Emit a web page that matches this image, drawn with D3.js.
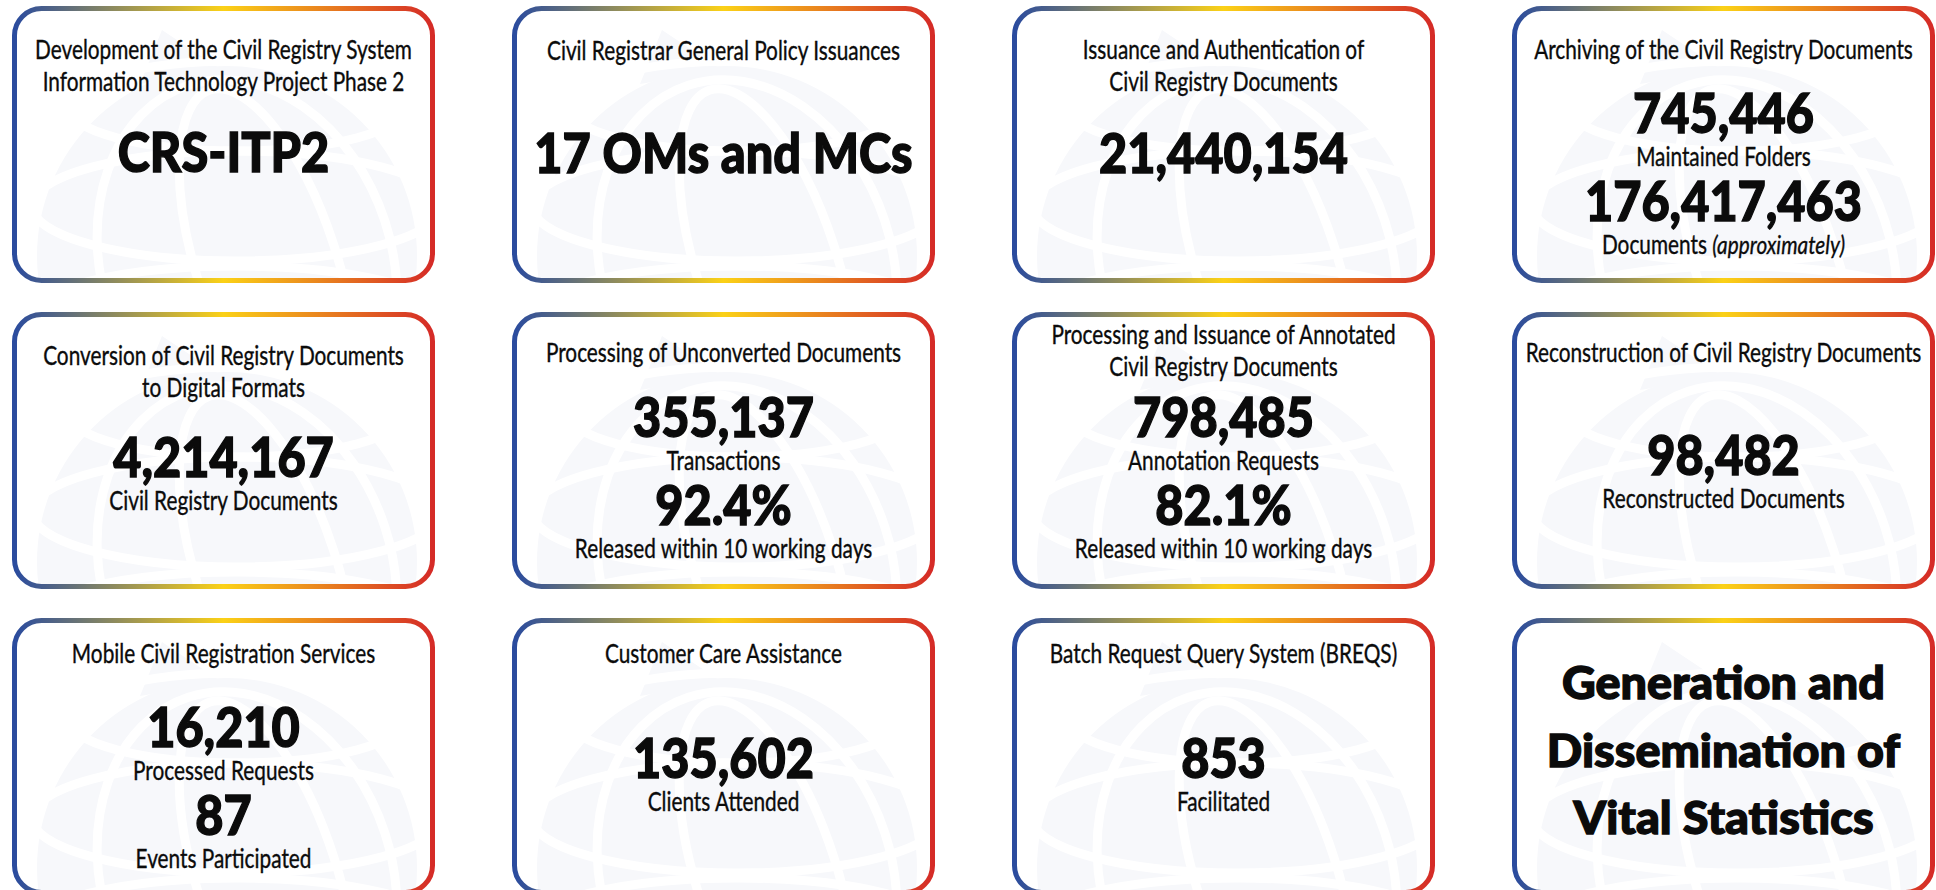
<!DOCTYPE html>
<html>
<head>
<meta charset="utf-8">
<script src="https://cdn.jsdelivr.net/npm/d3@7/dist/d3.min.js"></script>
<style>
html, body { margin: 0; padding: 0; background: #fff; overflow: hidden; }
svg { display: block; }
text { font-family: Lato, "Open Sans", sans-serif; fill: #0b0b0b; }
</style>
</head>
<body>
<svg id="board" width="1936" height="890"></svg>
<script>
// card titles, row by row (4 cards per row)
var titles = [
    ["Development of the Civil Registry System", "Information Technology Project Phase 2"],
    ["Civil Registrar General Policy Issuances"],
    ["Issuance and Authentication of", "Civil Registry Documents"],
    ["Archiving of the Civil Registry Documents"],
    ["Conversion of Civil Registry Documents", "to Digital Formats"],
    ["Processing of Unconverted Documents"],
    ["Processing and Issuance of Annotated", "Civil Registry Documents"],
    ["Reconstruction of Civil Registry Documents"],
    ["Mobile Civil Registration Services"],
    ["Customer Care Assistance"],
    ["Batch Request Query System (BREQS)"],
    []
];

// the big figures of each card
var figures = [
    ["CRS-ITP2"],
    ["17 OMs and MCs"],
    ["21,440,154"],
    ["745,446", "176,417,463"],
    ["4,214,167"],
    ["355,137", "92.4%"],
    ["798,485", "82.1%"],
    ["98,482"],
    ["16,210", "87"],
    ["135,602"],
    ["853"],
    []
];

// caption under each figure
var figureLabels = [
    [""],
    [""],
    [""],
    ["Maintained Folders", "Documents (approximately)"],
    ["Civil Registry Documents"],
    ["Transactions", "Released within 10 working days"],
    ["Annotation Requests", "Released within 10 working days"],
    ["Reconstructed Documents"],
    ["Processed Requests", "Events Participated"],
    ["Clients Attended"],
    ["Facilitated"],
    []
];

// last card only has a headline
var headline = ["Generation and", "Dissemination of", "Vital Statistics"];

// layout (card relative): first title baseline, first figure baseline
var titleY  = [53, 54, 53, 53, 53, 50, 32, 50, 45, 45, 45, 0];
var figureY = [166, 167, 167, 127, 165, 125, 125, 163, 129, 160, 160, 0];
var headlineY = [81, 149, 216];

var cardW = 423, cardH = 277;
var lineGap = 32, labelGap = 33, blockGap = 55;

var colX = d3.scaleLinear().domain([0, 3]).range([12, 1512]);
var rowY = d3.scaleLinear().domain([0, 2]).range([6, 618]);

var svg = d3.select("#board");
var defs = svg.append("defs");

var grad = defs.append("linearGradient")
    .attr("id", "rim")
    .attr("x1", "0%").attr("x2", "100%")
    .attr("y1", "0%").attr("y2", "0%");
grad.append("stop").attr("offset", "0%").attr("stop-color", "#2a4b9e");
grad.append("stop").attr("offset", "50%").attr("stop-color", "#fbd117");
grad.append("stop").attr("offset", "100%").attr("stop-color", "#d52b27");

defs.append("clipPath").attr("id", "inside")
    .append("rect")
    .attr("x", 3).attr("y", 3)
    .attr("width", cardW - 6).attr("height", cardH - 6)
    .attr("rx", 26);

// faint globe watermark behind every card
var watermark = function (g)
{
    var w = g.append("g")
        .attr("clip-path", "url(#inside)");
    var gx = 215, gy = 250, r = 190;

    w.append("circle")
        .attr("cx", gx).attr("cy", gy).attr("r", r)
        .attr("fill", "#f7f8fb");
    w.append("path")
        .attr("d", "M150,24 L210,64 L128,78 Z")
        .attr("fill", "#f7f8fb");

    var grid = w.append("g")
        .attr("fill", "none")
        .attr("stroke", "#ffffff")
        .attr("stroke-width", 9);
    grid.append("ellipse")
        .attr("cx", gx + 40).attr("cy", gy + 10)
        .attr("rx", 70).attr("ry", 185)
        .attr("transform", "rotate(-18," + (gx + 40) + "," + (gy + 10) + ")");
    grid.append("ellipse")
        .attr("cx", gx + 20).attr("cy", gy + 10)
        .attr("rx", 145).attr("ry", 190)
        .attr("transform", "rotate(-18," + (gx + 20) + "," + (gy + 10) + ")");
    grid.append("ellipse")
        .attr("cx", gx + 10).attr("cy", gy - 150)
        .attr("rx", 170).attr("ry", 45);
    grid.append("ellipse")
        .attr("cx", gx + 10).attr("cy", gy - 50)
        .attr("rx", 205).attr("ry", 55);
    grid.append("ellipse")
        .attr("cx", gx + 10).attr("cy", gy + 60)
        .attr("rx", 205).attr("ry", 50);
};

var probe = svg.append("text").attr("x", -1000).attr("y", -1000);
var natural = function (txt, size, weight)
{
    probe.attr("font-size", size).attr("font-weight", weight).text(txt);
    return probe.node().getComputedTextLength();
};

var draw = function ()
{
    // squeeze the fonts to the condensed face of the original
    var kReg  = 377 / natural("Development of the Civil Registry System", 26, 400);
    var kBold = 249 / natural("21,440,154", 55, 900);
    var kHead = 323 / natural("Generation and", 46, 900);
    probe.remove();

    var cards = svg.selectAll("g.card")
        .data(titles)
        .enter().append("g")
        .attr("class", "card")
        .attr("transform", function (d, i) {
            return "translate(" + colX(i % 4) + "," + rowY(Math.floor(i / 4)) + ")";
        });

    cards.each(function (d, i)
    {
        var g = d3.select(this);
        var cx = cardW / 2;
        watermark(g);

        g.append("rect")
            .attr("x", 2.5).attr("y", 2.5)
            .attr("width", cardW - 5).attr("height", cardH - 5)
            .attr("rx", 27)
            .attr("fill", "none")
            .attr("stroke", "url(#rim)")
            .attr("stroke-width", 5);

        d.forEach(function (t, j)
        {
            g.append("text")
                .attr("text-anchor", "middle")
                .attr("font-size", 26)
                .attr("stroke", "#0b0b0b")
                .attr("stroke-width", 0.35)
                .attr("transform", "translate(" + cx + "," + (titleY[i] + j * lineGap) + ") scale(" + kReg + ",1)")
                .text(t);
        });

        var y = figureY[i];
        figures[i].forEach(function (f, j)
        {
            g.append("text")
                .attr("text-anchor", "middle")
                .attr("font-size", 55)
                .attr("font-weight", 900)
                .attr("stroke", "#0b0b0b")
                .attr("stroke-width", 1.4)
                .attr("transform", "translate(" + cx + "," + y + ") scale(" + kBold + ",1)")
                .text(f);

            var lab = figureLabels[i][j];
            if (lab)
            {
                var t = g.append("text")
                    .attr("text-anchor", "middle")
                    .attr("font-size", 26)
                    .attr("stroke", "#0b0b0b")
                    .attr("stroke-width", 0.35)
                    .attr("transform", "translate(" + cx + "," + (y + labelGap) + ") scale(" + kReg + ",1)");
                var k = lab.indexOf("(");
                if (k > 0)
                {
                    t.append("tspan").text(lab.slice(0, k));
                    t.append("tspan").attr("font-style", "italic").text(lab.slice(k));
                }
                else
                    t.text(lab);
            }
            y += labelGap + blockGap;
        });

        if (i == 11)
        {
            headline.forEach(function (h, j)
            {
                g.append("text")
                    .attr("text-anchor", "middle")
                    .attr("font-size", 46)
                    .attr("font-weight", 900)
                    .attr("stroke", "#0b0b0b")
                    .attr("stroke-width", 1.4)
                    .attr("transform", "translate(" + cx + "," + headlineY[j] + ") scale(" + kHead + ",1)")
                    .text(h);
            });
        }
    });
};

if (document.fonts && document.fonts.ready)
    document.fonts.ready.then(draw);
else
    draw();
</script>
</body>
</html>
